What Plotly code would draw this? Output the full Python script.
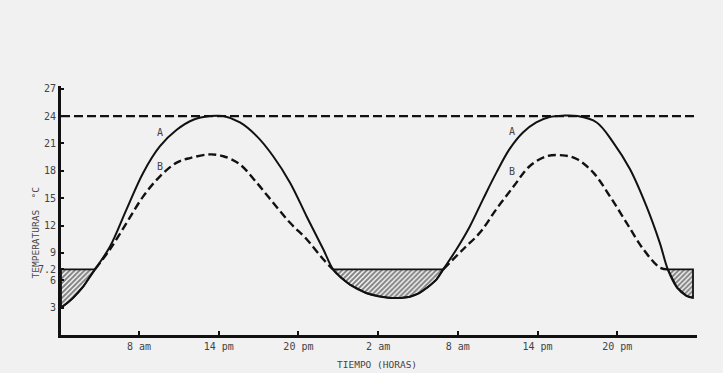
import plotly.graph_objects as go

# Data (hours from 0 = midnight of day 1; values in °C)
FROST = 7.2
MAX_LINE = 24

hours_a = [2.13, 2.6, 3.06, 3.8, 4.31, 4.69, 5.82, 7.07, 8.32, 9.58, 10.84, 12.09, 13.34,
           14.35, 15.6, 16.86, 18.1, 19.37, 20.62, 21.87, 22.6, 23.2, 23.9, 25.1, 26.0,
           26.9, 27.7, 28.4, 29.1, 29.7, 30.4, 30.9, 31.9, 32.9, 33.9, 34.9, 35.9, 36.9,
           37.9, 38.9, 39.9, 41.0, 42.45, 43.7, 44.95, 46.2, 47.2, 47.8, 48.5, 49.2, 49.7]
temp_a = [3.0, 3.5, 4.1, 5.3, 6.4, 7.2, 9.7, 13.8, 17.8, 20.7, 22.5, 23.6, 24.0,
          24.0, 23.3, 21.8, 19.6, 16.7, 13.0, 9.4, 7.2, 6.3, 5.5, 4.6, 4.25,
          4.07, 4.07, 4.2, 4.6, 5.2, 6.1, 7.2, 9.4, 11.9, 14.9, 17.8, 20.4, 22.2,
          23.3, 23.9, 24.05, 24.0, 23.3, 21.1, 18.2, 14.1, 10.1, 7.2, 5.2, 4.3, 4.07]

hours_b = [4.69, 5.82, 7.07, 8.32, 9.58, 10.84, 11.84, 13.34, 14.35, 15.6, 16.86, 18.1,
           19.37, 20.62, 21.87, 22.6, None,
           30.9, 32.4, 33.65, 34.9, 36.2, 37.4, 38.7, 39.9, 40.95, 42.2, 43.45, 44.7,
           45.96, 47.2, 47.8]
temp_b = [7.2, 9.4, 12.3, 15.2, 17.4, 18.9, 19.4, 19.8, 19.6, 18.7, 16.7, 14.5,
          12.3, 10.5, 8.3, 7.2, None,
          7.2, 9.4, 11.2, 13.8, 16.3, 18.5, 19.6, 19.7, 19.3, 17.8, 15.2, 12.3,
          9.4, 7.4, 7.2]

tick_hours = [8, 14, 20, 26, 32, 38, 44]
tick_labels = ["8 am", "14 pm", "20 pm", "2 am", "8 am", "14 pm", "20 pm"]
y_ticks = [3, 6, 7.2, 9, 12, 15, 18, 21, 24, 27]
y_tick_labels = ["3", "6", "7.2", "9", "12", "15", "18", "21", "24", "27"]

curve_labels = [("A", 9.6, 22.2), ("B", 9.6, 18.5), ("A", 36.1, 22.3), ("B", 36.1, 17.9)]

X_RANGE = [2.13, 50.0]
Y_RANGE = [0, 27.3]

BG = "#f1f1f2"
INK = "#111111"
TXT = "#444444"
FONT = "DejaVu Sans Mono"

fig = go.Figure()

# Hatched frost regions: where curve A is below the 7.2 line
runs, cur = [], []
for h, t in zip(hours_a, temp_a):
    if t <= FROST + 1e-9:
        cur.append((h, t))
    else:
        if cur:
            runs.append(cur)
        cur = []
if cur:
    runs.append(cur)

for run in runs:
    xs = [run[0][0]] + [p[0] for p in run] + [run[-1][0], run[0][0]]
    ys = [FROST] + [p[1] for p in run] + [FROST, FROST]
    fig.add_trace(go.Scatter(
        x=xs, y=ys, mode="lines", fill="toself",
        fillcolor=BG,
        fillpattern=dict(shape="/", fgcolor=INK, bgcolor=BG, size=3.5, solidity=0.55),
        line=dict(color=INK, width=1.8), hoverinfo="skip", showlegend=False))

# Horizontal dashed 24 °C line
fig.add_trace(go.Scatter(
    x=X_RANGE, y=[MAX_LINE, MAX_LINE], mode="lines",
    line=dict(color=INK, width=2.2, dash="9px,4px"), showlegend=False))

# Curve B (dashed)
fig.add_trace(go.Scatter(
    x=hours_b, y=temp_b, mode="lines", connectgaps=False,
    line=dict(color=INK, width=2.4, dash="8px,4px", shape="spline", smoothing=1),
    showlegend=False))

# Curve A (solid)
fig.add_trace(go.Scatter(
    x=hours_a, y=temp_a, mode="lines",
    line=dict(color=INK, width=2, shape="spline", smoothing=1),
    showlegend=False))

for txt, hx, vy in curve_labels:
    fig.add_annotation(x=hx, y=vy, text=txt, showarrow=False,
                       font=dict(family=FONT, size=10, color=TXT))

fig.add_annotation(xref="paper", yref="paper", x=-0.04, y=0.41,
                   xanchor="center", yanchor="middle",
                   text="TEMPERATURAS  °C", textangle=-90, showarrow=False,
                   font=dict(family=FONT, size=9.5, color=TXT))
fig.add_annotation(xref="paper", yref="paper", x=0.497, y=-0.15,
                   text="TIEMPO (HORAS)", showarrow=False,
                   font=dict(family=FONT, size=9.5, color=TXT))

fig.update_xaxes(range=X_RANGE, showgrid=False, zeroline=False,
                 showline=True, linecolor=INK, linewidth=3,
                 tickmode="array", tickvals=tick_hours, ticktext=tick_labels,
                 ticks="inside", ticklen=4, tickwidth=2, tickcolor=INK,
                 tickfont=dict(family=FONT, size=10, color=TXT))
fig.update_yaxes(range=Y_RANGE, showgrid=False, zeroline=False,
                 showline=True, linecolor=INK, linewidth=3,
                 tickmode="array", tickvals=y_ticks, ticktext=y_tick_labels,
                 ticks="inside", ticklen=3, tickwidth=2, tickcolor=INK,
                 tickfont=dict(family=FONT, size=10, color=TXT))

fig.update_layout(width=723, height=373,
                  margin=dict(l=61, r=26, t=86, b=38),
                  paper_bgcolor=BG, plot_bgcolor=BG,
                  showlegend=False)

fig.write_html("out.html", config={"displayModeBar": False},
               post_script="document.body.style.margin='0';document.body.style.background='#f1f1f2';")
